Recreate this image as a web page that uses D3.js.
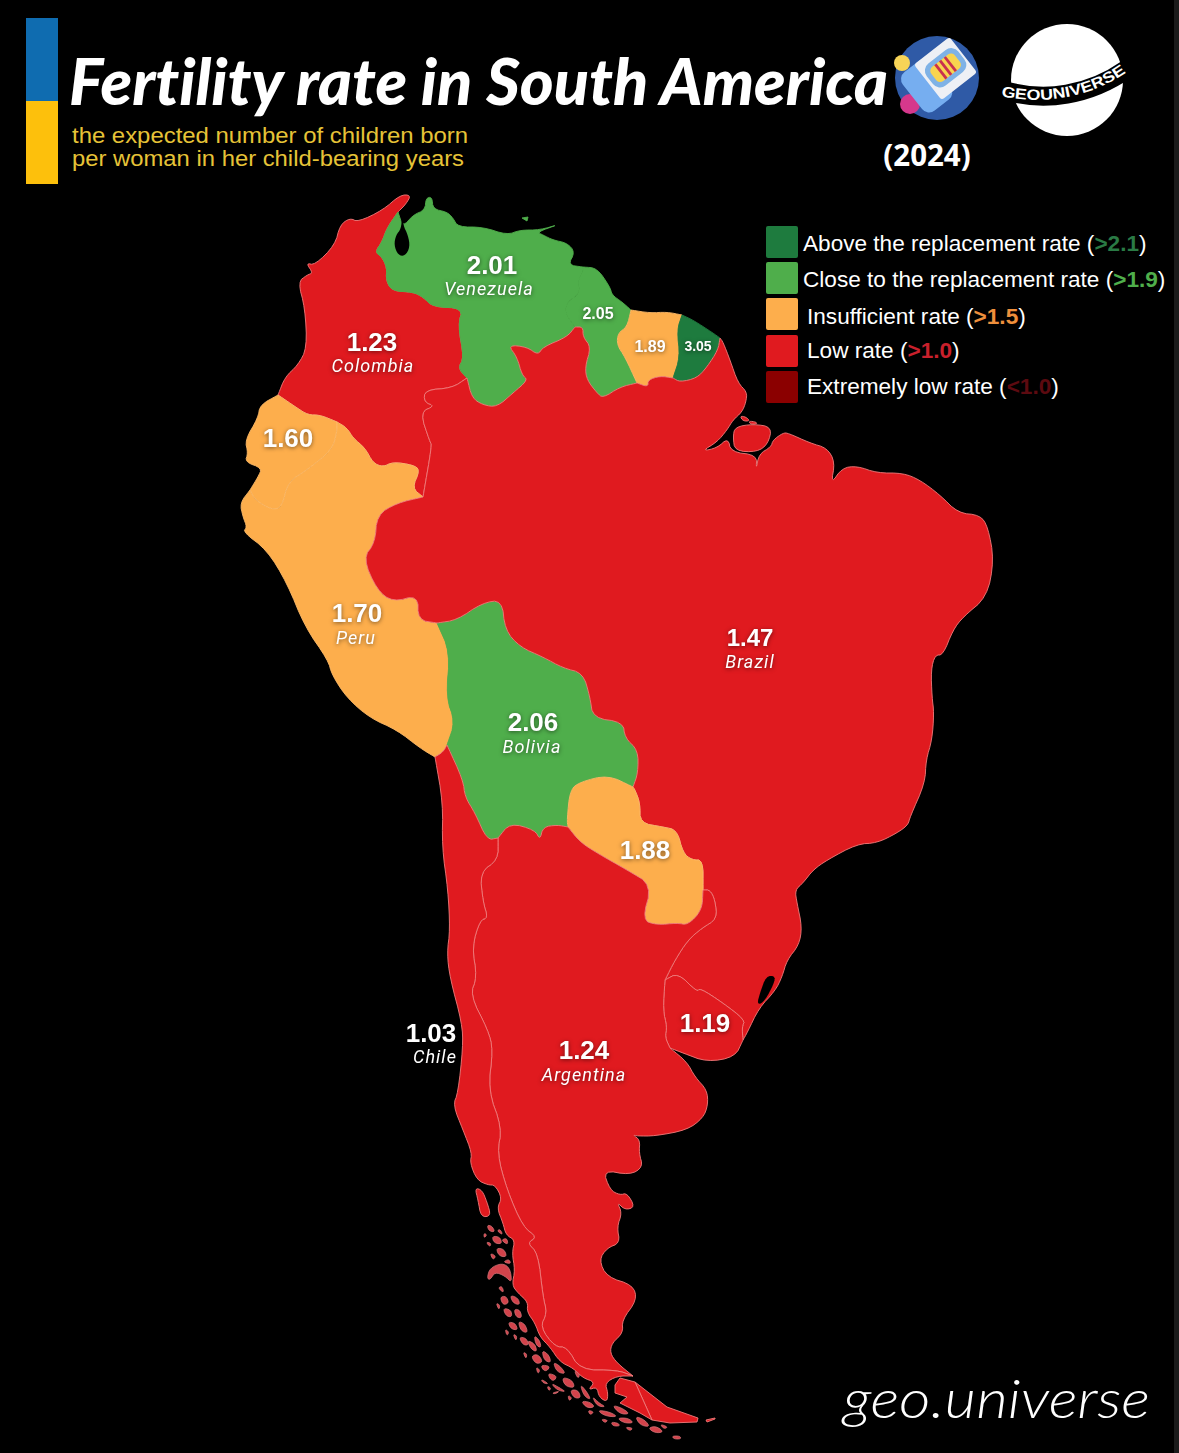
<!DOCTYPE html>
<html><head><meta charset="utf-8">
<script src="https://cdn.jsdelivr.net/npm/d3@7/dist/d3.min.js"></script>
<style>html,body{margin:0;padding:0;background:#000}svg{display:block}text{font-variant-ligatures:none}</style>
</head><body><svg id="c" width="1179" height="1453" viewBox="0 0 1179 1453"></svg>
<script>
// ---------- values ----------
const countries=["Colombia","Venezuela","Guyana","Suriname","French Guiana","Ecuador","Peru","Bolivia","Brazil","Paraguay","Uruguay","Argentina","Chile"];
const rates=[1.23,2.01,2.05,1.89,3.05,1.60,1.70,2.06,1.47,1.88,1.19,1.24,1.03];
const legendLabels=["Above the replacement rate (","Close to the replacement rate (","Insufficient rate (","Low rate (","Extremely low rate ("];
const legendThresholds=[">2.1",">1.9",">1.5",">1.0","<1.0"];
const rateBreaks=[1.0,1.5,1.9,2.1];
const rateColors=["#8b0000","#e01a1f","#fdae4c","#4fae4b","#1e7b3e"];
const legendTextColors=["#2a7a45","#4fae4b","#ee8f3c","#c9202c","#5c0a10"];

// ---------- map geometry, in map units ----------
const coastCol=[[278,395],[285,377],[298,365],[307,348],[305,308],[298,282],[307,275],[313,273],[306,263],[315,265],[335,245],[340,225],[350,218],[358,222],[383,210],[400,195],[411,195],[406,204],[398,212]];
const coastVen=[[398,212],[403,227],[413,215],[425,210],[426,198],[432,197],[433,209],[447,212],[453,218],[458,227],[483,227],[507,235],[520,230],[540,230],[560,224],[537,232],[543,235],[553,240],[567,243],[575,252],[568,265],[583,267]];
const coastGuy=[[583,267],[597,268],[610,287],[612,295],[622,302],[631,310]];
const coastSur=[[631,310],[650,313],[667,312],[682,315]];
const coastFg=[[682,315],[693,320],[713,333],[720,338]];
const coastBra=[[720,338],[723,342],[730,360],[738,383],[747,392],[746,402],[742,412],[733,420],[727,430],[717,442],[702,451],[717,448],[728,438],[731,452],[757,455],[756,470],[759,454],[771,447],[773,440],[783,433],[788,433],[810,443],[827,448],[835,462],[831,484],[842,468],[857,466],[877,473],[903,473],[920,480],[940,495],[958,513],[980,515],[988,527],[994,560],[987,597],[963,617],[953,630],[943,655],[935,655],[931,670],[932,697],[934,713],[932,740],[926,760],[925,783],[910,817],[908,825],[897,833],[877,843],[857,844],[827,860],[813,870],[803,883],[795,890],[797,903],[802,927],[799,945],[787,960],[782,977],[775,991],[759,1008],[747,1033],[743,1040]];
const coastUru=[[743,1040],[735,1057],[707,1062],[683,1053],[670,1048]];
const coastArg=[[670,1048],[687,1062],[695,1077],[707,1090],[708,1105],[703,1118],[687,1130],[655,1136],[637,1136],[633,1135],[640,1140],[639,1153],[643,1167],[630,1175],[603,1170],[610,1190],[620,1195],[627,1193],[635,1207],[625,1210],[617,1202],[622,1213],[617,1227],[620,1243],[607,1248],[599,1260],[607,1277],[633,1285],[637,1300],[622,1320],[623,1333],[612,1343],[610,1353],[617,1363],[633,1376]];
const coastEcu=[[278,395],[260,405],[258,418],[245,440],[248,453],[245,462],[262,468],[258,477],[250,490]];
const coastPer=[[250,490],[240,503],[243,517],[247,527],[243,532],[267,550],[287,583],[305,627],[328,660],[332,675],[347,698],[370,718],[397,730],[420,748],[435,757]];
const coastChi=[[435,757],[443,803],[442,847],[448,890],[450,930],[447,953],[450,978],[462,1023],[463,1047],[458,1093],[453,1105],[463,1130],[472,1153],[470,1163],[477,1180],[488,1185],[495,1185],[502,1198],[497,1208],[503,1223],[506,1235],[515,1240],[512,1253],[515,1270],[512,1285],[518,1293],[528,1302],[527,1312],[535,1323],[540,1337],[550,1347],[560,1362],[573,1368],[583,1378],[595,1382],[588,1390],[597,1387],[599,1397],[607,1402],[608,1393],[605,1383],[617,1376],[633,1376]];
const colVen=[[398,212],[387,228],[382,242],[375,252],[382,257],[387,268],[386,280],[392,291],[413,292],[423,297],[433,307],[463,308],[458,325],[464,358],[458,368],[467,378]];
const venGuy=[[583,267],[583,272],[578,280],[580,293],[567,302],[565,313],[575,327]];
const venBra=[[575,327],[567,337],[543,347],[538,355],[527,347],[508,345],[517,357],[522,375],[528,380],[513,393],[497,407],[483,405],[472,398],[467,378]];
const guyBra=[[637,383],[620,387],[603,398],[597,393],[587,380],[585,367],[591,347],[583,337],[583,327],[575,327]];
const guySur=[[631,310],[627,327],[618,333],[617,345],[625,357],[637,383]];
const surFg=[[682,315],[677,330],[680,357],[673,378]];
const surBra=[[673,378],[660,376],[648,380],[648,387],[637,383]];
const fgBra=[[720,338],[718,350],[707,367],[697,378],[680,382],[673,378]];
const colBra=[[467,378],[452,388],[425,390],[424,402],[435,406],[420,412],[430,442],[432,445],[423,497]];
const colPer=[[423,497],[412,488],[420,470],[413,465],[393,462],[383,467],[373,463],[365,448],[353,438],[347,428],[337,422]];
const colEcu=[[337,422],[320,415],[308,415],[297,408],[278,395]];
const ecuPer=[[250,490],[255,500],[272,510],[282,507],[288,482],[307,470],[332,450],[337,432],[337,422]];
const perBra=[[437,623],[418,620],[418,595],[393,602],[377,590],[363,558],[375,543],[377,515],[397,503],[423,497]];
const bolBra=[[437,623],[457,620],[482,603],[502,600],[505,630],[520,647],[543,657],[563,668],[583,673],[590,697],[593,718],[623,722],[625,738],[638,750],[638,773],[633,787]];
const perBol=[[437,623],[450,652],[446,697],[455,722],[447,745]];
const perChi=[[447,745],[443,752],[435,757]];
const parBol=[[633,787],[608,775],[580,782],[570,790],[567,820],[568,827]];
const parBra=[[633,787],[635,790],[640,803],[640,823],[663,827],[677,830],[683,853],[692,860],[703,860],[703,890]];
const parArg=[[703,890],[702,910],[688,925],[677,923],[657,925],[642,920],[652,885],[627,870],[597,853],[580,842],[568,827]];
const bolArg=[[568,827],[557,825],[543,827],[540,840],[535,830],[510,823],[498,838]];
const bolChi=[[498,838],[487,840],[475,813],[465,797],[463,780],[447,745]];
const argBra=[[665,980],[675,960],[688,940],[702,928],[717,919],[715,900],[710,890],[703,890]];
const uruArg=[[665,980],[663,1010],[667,1027],[665,1037],[670,1048]];
const uruBra=[[665,980],[678,973],[697,992],[700,988],[723,1003],[745,1020],[742,1027],[743,1040]];
const chiArg=[[498,838],[498,860],[480,872],[483,902],[488,918],[480,920],[472,947],[477,977],[470,995],[488,1030],[493,1050],[488,1090],[502,1128],[497,1153],[507,1190],[523,1227],[537,1237],[527,1243],[538,1253],[543,1297],[547,1313],[540,1327],[555,1347],[567,1347],[580,1370],[617,1370],[633,1376]];
const fuegoArg=[[635,1382],[667,1407],[698,1418],[697,1422],[670,1423],[652,1420]];
const fuegoChi=[[620,1378],[635,1382],[652,1420],[640,1413],[620,1403],[627,1397],[615,1393],[615,1385]];
const staten=[[706,1420],[715,1418],[715,1419],[707,1422]];
const marajo=[[735,427],[753,424],[772,427],[768,444],[757,452],[735,451],[733,437]];
const deltaIslands=[[[740,416],[746,417],[750,421],[743,421]],[[749,421],[756,422],[757,424],[750,424]]];
const margarita=[[522,218],[528,217],[527,221]];
const chiloe=[[475,1188],[482,1190],[487,1202],[491,1216],[481,1217],[478,1200]];
const lakes=[[[403,225],[408,235],[410,247],[405,256],[398,255],[394,245],[396,235],[401,229],[402,216],[404,216]],[[766,976],[776,976],[772,988],[763,1003],[757,1004],[760,993]]];
const patagoniaIslands=[
[[487,1225],[492,1226],[495,1232],[489,1231]],[[492,1236],[500,1237],[502,1244],[494,1243]],[[486,1242],[491,1243],[490,1247]],
[[496,1248],[504,1249],[507,1257],[499,1256]],[[490,1253],[496,1256],[493,1260]],[[501,1240],[507,1238],[508,1245]],
[[487,1278],[490,1268],[502,1263],[510,1268],[512,1283],[505,1276],[495,1272],[490,1280]],
[[500,1297],[506,1296],[509,1303],[503,1305]],[[510,1295],[518,1298],[520,1305],[513,1303]],[[503,1308],[511,1310],[512,1317],[506,1316]],
[[514,1309],[520,1310],[522,1318],[516,1317]],[[508,1322],[515,1323],[518,1330],[511,1329]],[[518,1321],[525,1324],[528,1333],[521,1331]],
[[519,1337],[526,1338],[529,1345],[523,1345]],[[527,1340],[535,1344],[537,1352],[531,1349]],[[534,1335],[540,1341],[541,1348],[536,1345]],
[[531,1356],[538,1354],[543,1362],[536,1364]],[[542,1350],[549,1355],[551,1363],[544,1360]],[[541,1365],[550,1366],[547,1371],[543,1370]],
[[553,1362],[560,1366],[566,1374],[557,1372]],[[548,1373],[557,1376],[554,1381],[550,1379]],[[562,1377],[572,1380],[575,1388],[565,1386]],
[[551,1383],[560,1388],[566,1392],[557,1390]],[[570,1390],[578,1390],[581,1398],[574,1398]],[[580,1384],[587,1392],[591,1400],[584,1396]],
[[581,1401],[590,1402],[595,1407],[587,1408]],[[592,1396],[599,1403],[606,1407],[597,1406]],[[597,1410],[610,1412],[618,1417],[605,1416]],
[[612,1405],[622,1408],[630,1414],[620,1414]],[[617,1418],[628,1418],[634,1423],[624,1423]],[[635,1416],[645,1420],[650,1427],[640,1425]],
[[648,1428],[656,1426],[664,1432],[655,1433]],[[672,1436],[680,1436],[681,1439],[674,1439]],[[611,1422],[618,1423],[620,1426],[613,1426]],
[[560,1391],[555,1394],[552,1393]],[[541,1379],[549,1384],[543,1383]],
[[497,1231],[500,1229],[503,1235]],[[484,1233],[487,1235],[484,1238]],[[503,1262],[509,1259],[511,1264]],[[498,1288],[502,1286],[504,1293]],[[496,1303],[500,1305],[499,1310]],
[[505,1329],[509,1332],[507,1336]],[[513,1334],[517,1336],[516,1341]],[[523,1352],[527,1354],[526,1359]],[[536,1367],[540,1370],[538,1374]],[[547,1386],[551,1388],[549,1391]],
[[574,1370],[580,1374],[578,1379]],[[588,1410],[594,1412],[590,1415]],[[601,1419],[608,1420],[605,1423]],[[625,1427],[633,1428],[630,1431]],[[660,1424],[668,1427],[664,1429]],[[568,1395],[572,1398],[569,1401]]];

// ---------- composition ----------
// corner rounding, ends of each shared border stay fixed so that neighbours still meet
function chaikin(a,closed){
 let p=a.map(d=>d.slice());
 for(let k=0;k<2;k++){
  const q=[]; const n=p.length;
  if(!closed) q.push(p[0]);
  for(let i=0;i<(closed?n:n-1);i++){
   const A=p[i],B=p[(i+1)%n];
   q.push([A[0]*.75+B[0]*.25,A[1]*.75+B[1]*.25],[A[0]*.25+B[0]*.75,A[1]*.25+B[1]*.75]);
  }
  if(!closed) q.push(p[n-1]);
  p=q;
 }
 return p;
}
const openLines=[coastCol,coastVen,coastGuy,coastSur,coastFg,coastBra,coastUru,coastArg,coastEcu,coastPer,coastChi,colVen,venGuy,venBra,guyBra,guySur,surFg,surBra,fgBra,colBra,colPer,colEcu,ecuPer,perBra,bolBra,perBol,perChi,parBol,parBra,parArg,bolArg,bolChi,argBra,uruArg,uruBra,chiArg];
openLines.forEach(a=>{const r=chaikin(a,false);a.length=0;a.push(...r);});
const closedRings=[marajo,chiloe,...lakes,...deltaIslands,...patagoniaIslands];
closedRings.forEach(a=>{const r=chaikin(a,true);a.length=0;a.push(...r);});

const rev=a=>a.slice().reverse();
const join=(...parts)=>parts.flat();
const rings={
 "Colombia":[join(coastCol,colVen,colBra,colPer,colEcu)],
 "Venezuela":[join(coastVen,venGuy,venBra,rev(colVen)),margarita],
 "Guyana":[join(coastGuy,guySur,guyBra,rev(venGuy))],
 "Suriname":[join(coastSur,surFg,surBra,rev(guySur))],
 "French Guiana":[join(coastFg,fgBra,rev(surFg))],
 "Ecuador":[join(coastEcu,ecuPer,colEcu)],
 "Peru":[join(coastPer,rev(perChi),rev(perBol),perBra,colPer,rev(ecuPer))],
 "Bolivia":[join(bolBra,parBol,bolArg,bolChi,rev(perBol))],
 "Brazil":[join(coastBra,rev(uruBra),argBra,rev(parBra),rev(bolBra),perBra,rev(colBra),rev(venBra),rev(guyBra),rev(surBra),rev(fgBra)),marajo,...deltaIslands],
 "Paraguay":[join(parBra,parArg,rev(parBol))],
 "Uruguay":[join(uruBra,coastUru,rev(uruArg))],
 "Argentina":[join(rev(bolArg),rev(parArg),rev(argBra),uruArg,coastArg,rev(chiArg)),fuegoArg,staten],
 "Chile":[join(chiArg,rev(coastChi),rev(perChi),rev(bolChi)),fuegoChi,chiloe]
};
const rateOf=new Map(countries.map((c,i)=>[c,rates[i]]));
const color=d3.scaleThreshold().domain(rateBreaks).range(rateColors);
const svg=d3.select("#c");
const path=d3.geoPath(d3.geoIdentity());
const poly=r=>({type:"MultiPolygon",coordinates:r.map(x=>[[...x,x[0]]])});

svg.append("rect").attr("width",1179).attr("height",1453).attr("fill","#000");
svg.append("rect").attr("x",1174).attr("width",5).attr("height",1453).attr("fill","#1b1b1b");

// ---------- map ----------
const map=svg.append("g");
map.selectAll("path.country").data(countries).join("path").attr("class","country")
 .attr("d",c=>path(poly(rings[c])))
 .attr("fill",c=>color(rateOf.get(c)))
 .attr("stroke",c=>{const r=rateOf.get(c);return r<1.5?"#f07a7a":(r<1.9?"#fdb966":color(r));})
 .attr("stroke-width",0.9).attr("stroke-linejoin","round");
map.selectAll("path.isl").data(patagoniaIslands).join("path").attr("class","isl")
 .attr("d",r=>path(poly([r]))).attr("fill","#d2434b").attr("stroke","#d9787c").attr("stroke-width",0.7);
map.selectAll("path.lake").data(lakes).join("path").attr("class","lake")
 .attr("d",r=>path(poly([r]))).attr("fill","#000");

// ---------- value labels ----------
const shadow="drop-shadow(0 1px 2px rgba(0,0,0,.5))";
const valueX=[372,492,598,650,698,288,357,533,750,645,705,584,431];
const valueY=[351,274,319,352,351,447,622,731,646,859,1032,1059,1042];
const valueSize=[26,26,16,16,14,26,26,26,24,26,26,26,26];
const nameShown=["Colombia","Venezuela","Peru","Bolivia","Brazil","Argentina","Chile"];
const nameX=[373,489,356,532,750,584,435];
const nameY=[372,295,644,753,668,1081,1063];
svg.selectAll("text.val").data(countries).join("text").attr("class","val")
 .attr("x",(d,i)=>valueX[i]).attr("y",(d,i)=>valueY[i]).attr("text-anchor","middle")
 .attr("font-family","Liberation Sans").attr("font-weight",700).attr("font-size",(d,i)=>valueSize[i])
 .attr("fill","#fff").style("filter",shadow).text(d=>rateOf.get(d).toFixed(2));
svg.selectAll("text.nm").data(nameShown).join("text").attr("class","nm")
 .attr("x",(d,i)=>nameX[i]).attr("y",(d,i)=>nameY[i]).attr("text-anchor","middle")
 .attr("font-family","Roboto").attr("font-style","italic").attr("font-size",18).attr("letter-spacing",1.05)
 .attr("fill","#fff").style("filter",shadow).text(d=>d);

// ---------- header ----------
svg.append("rect").attr("x",26).attr("y",18).attr("width",32).attr("height",83).attr("fill","#0f6cb0");
svg.append("rect").attr("x",26).attr("y",101).attr("width",32).attr("height",83).attr("fill","#fdc00c");
svg.append("text").attr("x",69).attr("y",105).attr("font-family","Lato").attr("font-weight",900).attr("font-style","italic")
 .attr("font-size",65).attr("fill","#fff").attr("textLength",819).attr("lengthAdjust","spacingAndGlyphs").text("Fertility rate in South America");
const subLen=[396,392];
svg.selectAll("text.sub").data(["the expected number of children born","per woman in her child-bearing years"]).join("text").attr("class","sub")
 .attr("x",72).attr("y",(d,i)=>142.5+i*23).attr("font-family","Liberation Sans").attr("font-size",22).attr("fill","#e6c337")
 .attr("textLength",(d,i)=>subLen[i]).attr("lengthAdjust","spacingAndGlyphs").text(d=>d);
svg.append("text").attr("x",927).attr("y",166).attr("text-anchor","middle").attr("font-family","Open Sans").attr("font-weight",700)
 .attr("font-size",29.5).attr("fill","#fff").text("(2024)");

// ---------- test icon ----------
const ic=svg.append("g");
ic.append("circle").attr("cx",937).attr("cy",78).attr("r",42).attr("fill","#2f5aa6");
ic.append("circle").attr("cx",902).attr("cy",63).attr("r",8).attr("fill","#f7d457");
ic.append("circle").attr("cx",910).attr("cy",104).attr("r",10).attr("fill","#d6388c");
const t=ic.append("g").attr("transform","translate(945,67) rotate(-38)");
t.append("rect").attr("x",-44).attr("y",-21).attr("width",36).attr("height",49).attr("rx",9).attr("fill","#76aef0");
t.append("rect").attr("x",-23).attr("y",-21).attr("width",45).attr("height",45).attr("rx",3).attr("fill","#eef0f5");
t.append("rect").attr("x",-20).attr("y",-13).attr("width",40).attr("height",28).attr("rx",9).attr("fill","#7fb2e6");
t.append("rect").attr("x",-15).attr("y",-8).attr("width",30).attr("height",18).attr("rx",5).attr("fill","#f8d44f");
[-6,0,6].forEach(o=>t.append("rect").attr("x",o-1.4).attr("y",-8).attr("width",2.8).attr("height",18).attr("fill","#c9304f"));

// ---------- globe logo ----------
svg.append("circle").attr("cx",1067).attr("cy",80).attr("r",56).attr("fill","#fff");
const defs=svg.append("defs");
defs.append("path").attr("id","band").attr("d","M1001,96 C1040,105 1090,99 1128,71");
svg.append("path").attr("d","M1003,90 C1045,103 1090,95 1127,69").attr("fill","none").attr("stroke","#000").attr("stroke-width",19);
svg.append("text").attr("font-family","Liberation Sans").attr("font-weight",700).attr("font-size",15).attr("fill","#fff")
 .append("textPath").attr("href","#band").attr("textLength",131).attr("lengthAdjust","spacingAndGlyphs").text("GEOUNIVERSE");

// ---------- legend ----------
const ly=[226,262,298,335,371], lx=[803,803,807,807,807], lb=[251,287,324,358,394];
const sw=svg.append("g");
sw.selectAll("rect").data(legendLabels).join("rect").attr("x",766).attr("y",(d,i)=>ly[i]).attr("width",32).attr("height",32).attr("rx",2)
 .attr("fill",(d,i)=>rateColors[rateColors.length-1-i]);
const lt=svg.selectAll("text.lg").data(legendLabels).join("text").attr("class","lg")
 .attr("x",(d,i)=>lx[i]).attr("y",(d,i)=>lb[i]).attr("font-family","Liberation Sans").attr("font-size",22.6).attr("fill","#fff");
lt.append("tspan").text(d=>d);
lt.append("tspan").attr("font-weight",700).attr("fill",(d,i)=>legendTextColors[i]).text((d,i)=>legendThresholds[i]);
lt.append("tspan").text(")");

// ---------- signature ----------
svg.append("text").attr("x",843).attr("y",1418).attr("font-family","Lato").attr("font-style","italic").attr("font-weight",300).attr("font-size",54)
 .attr("fill","#fff").attr("textLength",307).attr("lengthAdjust","spacingAndGlyphs").text("geo.universe");
</script></body></html>
